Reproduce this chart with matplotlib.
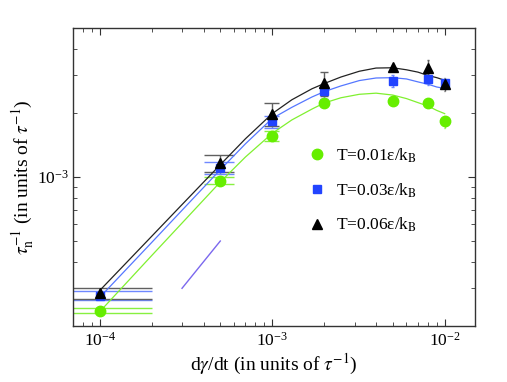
import numpy as np
import matplotlib
matplotlib.use("Agg")
import matplotlib.pyplot as plt
from matplotlib.lines import Line2D

plt.rcParams["font.family"] = ["Liberation Serif", "DejaVu Serif"]
plt.rcParams["mathtext.fontset"] = "stix"

# shear rates of the simulations
rates = np.array([1e-4, 5e-4, 1e-3, 2e-3, 5e-3, 8e-3, 1e-2])

# nucleation rate tau_n^-1 for each temperature
rate_t001 = np.array([2.36e-4, 9.58e-4, 1.56e-3, 2.23e-3, 2.26e-3, 2.23e-3, 1.82e-3])
rate_t003 = np.array([2.77e-4, 1.10e-3, 1.82e-3, 2.52e-3, 2.81e-3, 2.87e-3, 2.75e-3])
rate_t006 = np.array([2.84e-4, 1.16e-3, 1.98e-3, 2.75e-3, 3.27e-3, 3.23e-3, 2.72e-3])

err_t001 = np.array([5.5e-6, 3.7e-5, 8e-5, 5e-5, 5e-5, 5e-5, 1.2e-4])
err_t003 = np.array([1.4e-5, 7e-5, 1.2e-4, 1.9e-4, 1.8e-4, 1.6e-4, 1.0e-4])
err_t006 = np.array([1.8e-5, 1.1e-4, 2.5e-4, 3.5e-4, 5e-5, 2.9e-4, 2.0e-4])

fit_rates = np.array([1e-4, 2e-4, 3e-4, 5e-4, 7e-4, 1e-3, 1.3e-3, 1.7e-3, 2e-3,
                      2.5e-3, 3.2e-3, 4e-3, 5e-3, 6e-3, 7e-3, 8e-3, 9e-3, 1e-2])
fit_t001 = np.array([2.33e-4, 4.27e-4, 6.07e-4, 9.46e-4, 1.24e-3, 1.60e-3, 1.85e-3,
                     2.08e-3, 2.22e-3, 2.35e-3, 2.44e-3, 2.47e-3, 2.42e-3, 2.33e-3,
                     2.23e-3, 2.15e-3, 2.05e-3, 1.98e-3])
fit_t003 = np.array([2.72e-4, 4.92e-4, 6.97e-4, 1.08e-3, 1.43e-3, 1.88e-3, 2.12e-3,
                     2.37e-3, 2.51e-3, 2.67e-3, 2.83e-3, 2.91e-3, 2.92e-3, 2.88e-3,
                     2.79e-3, 2.72e-3, 2.64e-3, 2.60e-3])
fit_t006 = np.array([2.93e-4, 5.26e-4, 7.41e-4, 1.14e-3, 1.51e-3, 1.98e-3, 2.30e-3,
                     2.59e-3, 2.74e-3, 2.94e-3, 3.13e-3, 3.24e-3, 3.25e-3, 3.18e-3,
                     3.10e-3, 2.99e-3, 2.92e-3, 2.84e-3])

# slope-one guide line
guide_x = [3e-4, 5e-4]
guide_y = [3e-4, 5e-4]

labels = [r"T=0.01ε/k$_{\rm B}$", r"T=0.03ε/k$_{\rm B}$", r"T=0.06ε/k$_{\rm B}$"]

cap_half = 1e-4  # error bar caps are 1e-4 wide on each side
xlim = (7e-5, 1.5e-2)
ylim = (2e-4, 5e-3)

series = [
    # values, errors, fit, marker colour, bar colour, line colour, marker, size
    (rate_t001, err_t001, fit_t001, "#66ee00", "#88f040", "#80f030", "o", 7.5),
    (rate_t003, err_t003, fit_t003, "#2244ff", "#6f88ff", "#5577ff", "s", 6),
    (rate_t006, err_t006, fit_t006, "black", "#606060", "#222222", "^", 7.5),
]

fig = plt.figure(figsize=(5.07, 3.82), dpi=100)
ax = fig.add_axes([0.144, 0.147, 0.793, 0.780])

handles = []
for (vals, err, fit, col, ecol, lcol, mk, ms), lab in zip(series, labels):
    ax.vlines(rates, vals - err, vals + err, color=ecol, lw=1.0, zorder=2)
    left = np.where(rates - cap_half > 0, rates - cap_half, xlim[0])
    for y in (vals - err, vals + err):
        ax.hlines(y, left, rates + cap_half, color=ecol, lw=1.0, zorder=2)
    ax.plot(fit_rates, fit, color=lcol, lw=0.9, zorder=3)
    ax.plot(rates, vals, ls="none", marker=mk, ms=ms, color=col, mec=col, zorder=4)
    handles.append(Line2D([], [], ls="none", marker=mk, ms=ms, color=col, label=lab))

ax.plot(guide_x, guide_y, color="#7b68ee", lw=1.0)

ax.set_xscale("log")
ax.set_yscale("log")
ax.set_xlim(*xlim)
ax.set_ylim(*ylim)
ax.yaxis.set_minor_formatter(matplotlib.ticker.NullFormatter())
ax.xaxis.set_minor_formatter(matplotlib.ticker.NullFormatter())

ax.tick_params(which="both", direction="in", top=True, right=True,
               labelsize=12.5, colors="#333333", labelcolor="black")
ax.tick_params(which="major", length=5)
ax.tick_params(which="minor", length=3)
ax.tick_params(axis="x", which="major", pad=4)
ax.tick_params(axis="y", which="major", pad=3)
for sp in ax.spines.values():
    sp.set_color("#333333")
    sp.set_linewidth(1.0)

ax.set_xlabel(r"d$\gamma$/dt (in units of $\tau^{-1}$)", fontsize=14, labelpad=2)
ax.set_ylabel(r"$\tau_{\rm n}^{-1}$ (in units of $\tau^{-1}$)", fontsize=14, labelpad=0)

ax.legend(handles=handles, loc="upper left", bbox_to_anchor=(0.535, 0.655),
          frameon=False, fontsize=12.5, handletextpad=0.35, labelspacing=0.95,
          handlelength=1.5)

fig.savefig("out.png", dpi=100)
